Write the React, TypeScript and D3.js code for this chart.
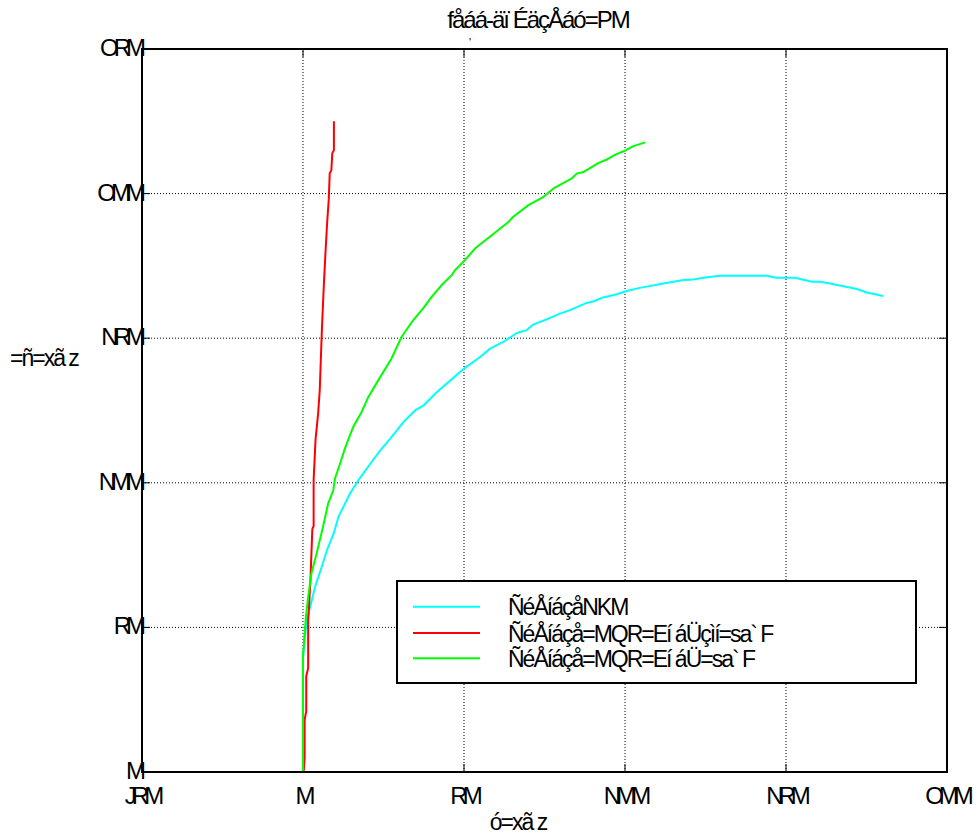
import * as d3 from 'd3';

const xTicks = [-50, 0, 50, 100, 150, 200];
const xTickLabels = ['JRM', 'M', 'RM', 'NMM', 'NRM', 'OMM'];
const yTicks = [0, 50, 100, 150, 200, 250];
const yTickLabels = ['M', 'RM', 'NMM', 'NRM', 'OMM', 'ORM'];

const titleText = 'fåáá-äï ÉäçÅáó=PM';
const subTitleText = "'";
const xLabelText = 'ó=xã z';
const yLabelText = '=ñ=xã z';

const seriesNames = [
  'ÑéÅíáçåNKM',
  'ÑéÅíáçå=MQR=Eí áÜçìí=sa` F',
  'ÑéÅíáçå=MQR=Eí áÜ=sa` F',
];
const seriesColors = ['#00ffff', '#ff0000', '#00ff00'];

// cyan
const cyanX = [0, 0, 1.1, 2.2, 3.7, 5.8, 7.4, 9.5, 11, 14.6, 17.2, 20.9, 24, 27.1, 31.2, 34.9, 37.5, 41.6, 45.9, 50, 55, 58.1, 62.2, 66.4, 69.5, 71.5, 76.7, 79.8, 82.9, 88.1, 90.1, 93.2, 97.4, 100.5, 104.6, 111.9, 118.1, 121.2, 124.3, 129.5, 144, 147.1, 152.8, 158, 160.6, 163.7, 167.8, 172, 175.1, 180.2];
const cyanY = [0, 39.7, 52.4, 57, 63.9, 70.9, 76.6, 82.4, 88.2, 96.3, 100.9, 106.6, 111.2, 115.3, 121, 125.1, 126.8, 131.4, 135.5, 139.5, 143.5, 146.4, 148.7, 151.8, 152.8, 154.7, 157, 158.5, 159.7, 162.2, 162.7, 164.1, 165.2, 166.3, 167.4, 168.9, 170.1, 170.3, 170.9, 171.6, 171.6, 170.9, 170.9, 169.5, 169.5, 168.9, 168, 167, 165.8, 164.6];

// red
const redX = [0.2, 0.5, 0.5, 1.0, 1.0, 1.6, 1.6, 2.3, 2.9, 3.3, 3.3, 3.9, 4.7, 5.2, 5.9, 6.5, 7.0, 7.5, 8.0, 8.3, 8.8, 9.1, 9.6, 9.6];
const redY = [0, 5, 18, 21, 33, 36, 52, 66, 84, 85, 101, 115, 124, 132, 154, 169, 180, 190, 198, 207, 208, 214, 215, 225];

// green
const greenX = [0, 0, 0.9, 1.6, 2.6, 4.2, 6.2, 7.8, 9.4, 9.9, 11.5, 13, 15.6, 18.2, 20.3, 23.4, 27.5, 30.6, 34.2, 37.3, 40.4, 43, 46.2, 47.2, 50.3, 53.4, 58.6, 63.8, 65.3, 70, 74.7, 77.8, 83.5, 85.1, 87.2, 91.8, 94.4, 97, 100.3, 102.6, 106.3];
const greenY = [0, 40, 53.6, 60.5, 68.6, 75.5, 84.7, 92.8, 97.4, 101.4, 106.6, 111.8, 119.3, 124.5, 129.7, 135.5, 143, 150.4, 156.2, 160.3, 164.9, 168.3, 171.8, 173.5, 177, 181, 185.6, 190.2, 192, 196, 198.9, 201.8, 205.3, 207, 207.5, 210.6, 211.8, 213.5, 215, 216.4, 217.7];

const series = [
  { xs: cyanX, ys: cyanY },
  { xs: redX, ys: redY },
  { xs: greenX, ys: greenY },
];

const width = 976;
const height = 836;
const margin = { top: 49, right: 29, bottom: 64, left: 142 };
const font = '"Liberation Sans", Arial, sans-serif';

export default function App() {
  const x = d3.scaleLinear().domain([-50, 200]).range([margin.left, width - margin.right]);
  const y = d3.scaleLinear().domain([0, 250]).range([height - margin.bottom, margin.top]);
  const x0 = margin.left;
  const x1 = width - margin.right;
  const y0 = height - margin.bottom;
  const y1 = margin.top;
  const tick = 8;

  const line = d3
    .line<[number, number]>()
    .x((d) => x(d[0]))
    .y((d) => y(d[1]));

  const legend = { left: 397, top: 581, right: 916, bottom: 683 };
  const rowY = [606.7, 633, 658.3];

  return (
    <svg
      width={width}
      height={height}
      style={{ position: 'absolute', left: 0, top: 0, background: '#fff' }}
      fontFamily={font}
    >
      <rect x={0} y={0} width={width} height={height} fill="#fff" />

      {/* grid */}
      {xTicks.slice(1, -1).map((t) => (
        <line key={'gx' + t} x1={x(t)} x2={x(t)} y1={y0} y2={y1} stroke="#000" strokeWidth={1} strokeDasharray="1,2" />
      ))}
      {yTicks.slice(1, -1).map((t) => (
        <line key={'gy' + t} x1={x0} x2={x1} y1={y(t)} y2={y(t)} stroke="#000" strokeWidth={1} strokeDasharray="1,2" />
      ))}

      {/* ticks on all four sides */}
      {xTicks.map((t) => (
        <g key={'tx' + t}>
          <line x1={x(t)} x2={x(t)} y1={y0} y2={y0 - tick} stroke="#000" strokeWidth={1} />
          <line x1={x(t)} x2={x(t)} y1={y1} y2={y1 + tick} stroke="#000" strokeWidth={1} />
        </g>
      ))}
      {yTicks.map((t) => (
        <g key={'ty' + t}>
          <line x1={x0} x2={x0 + tick} y1={y(t)} y2={y(t)} stroke="#000" strokeWidth={1} />
          <line x1={x1} x2={x1 - tick} y1={y(t)} y2={y(t)} stroke="#000" strokeWidth={1} />
        </g>
      ))}

      {/* data */}
      {series.map((s, i) => (
        <path
          key={'s' + i}
          d={line(s.xs.map((v, j) => [v, s.ys[j]] as [number, number])) || ''}
          fill="none"
          stroke={seriesColors[i]}
          strokeWidth={2}
          strokeLinejoin="round"
        />
      ))}

      {/* axes box */}
      <rect x={x0} y={y1} width={x1 - x0} height={y0 - y1} fill="none" stroke="#000" strokeWidth={2} />

      {/* tick labels */}
      {xTicks.map((t, i) => (
        <text key={'lx' + t} x={x(t)} y={y0 + 32} textAnchor="middle" fontSize={24} letterSpacing={-5}>
          {xTickLabels[i]}
        </text>
      ))}
      {yTicks.map((t, i) => (
        <text key={'ly' + t} x={x0 - 1} y={y(t) + 7} textAnchor="end" fontSize={24} letterSpacing={-5}>
          {yTickLabels[i]}
        </text>
      ))}

      {/* title and axis labels */}
      <text x={538} y={28} textAnchor="middle" fontSize={24} letterSpacing={-2}>
        {titleText}
      </text>
      <text x={470} y={46} textAnchor="middle" fontSize={11}>
        {subTitleText}
      </text>
      <text x={518} y={830} textAnchor="middle" fontSize={23} letterSpacing={-2}>
        {xLabelText}
      </text>
      <text x={10} y={366} textAnchor="start" fontSize={23} letterSpacing={-2}>
        {yLabelText}
      </text>

      {/* legend */}
      <rect
        x={legend.left}
        y={legend.top}
        width={legend.right - legend.left}
        height={legend.bottom - legend.top}
        fill="#fff"
        stroke="#000"
        strokeWidth={2}
      />
      {seriesNames.map((name, i) => (
        <g key={'lg' + i}>
          <line x1={413} x2={480} y1={rowY[i]} y2={rowY[i]} stroke={seriesColors[i]} strokeWidth={2} />
          <text x={508} y={rowY[i] + 8.5} fontSize={23} letterSpacing={-2}>
            {name}
          </text>
        </g>
      ))}
    </svg>
  );
}
